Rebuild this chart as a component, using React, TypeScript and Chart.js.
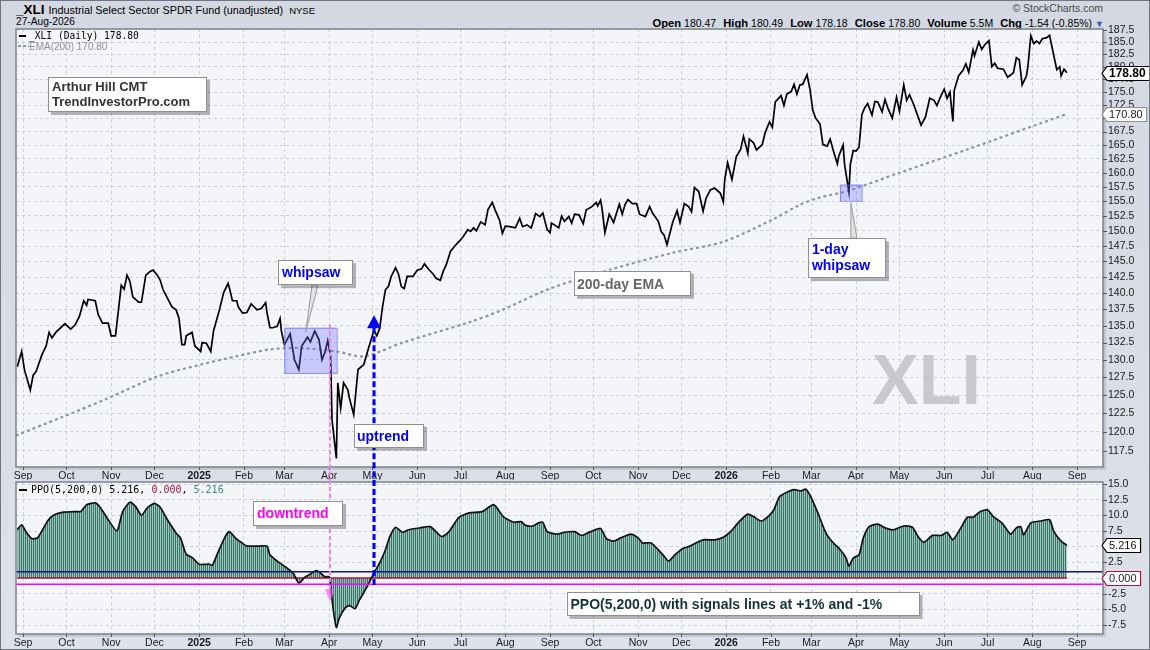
import React, { useEffect, useRef } from "react";
import { Chart, registerables } from "chart.js";

Chart.register(...registerables);

// ---------------- data ----------------
const START_DATE = "2024-09-01"; // day offsets below are counted from this date

const monthTickDates = [
  "2024-09-01", "2024-10-01", "2024-11-01", "2024-12-01", "2025-01-01", "2025-02-01",
  "2025-03-01", "2025-04-01", "2025-05-01", "2025-06-01", "2025-07-01", "2025-08-01",
  "2025-09-01", "2025-10-01", "2025-11-01", "2025-12-01", "2026-01-01", "2026-02-01",
  "2026-03-01", "2026-04-01", "2026-05-01", "2026-06-01", "2026-07-01", "2026-08-01",
  "2026-09-01",
];
const monthNames = ["Jan", "Feb", "Mar", "Apr", "May", "Jun", "Jul", "Aug", "Sep", "Oct", "Nov", "Dec"];

const priceTicks = [117.5, 120, 122.5, 125, 127.5, 130, 132.5, 135, 137.5, 140, 142.5, 145, 147.5, 150,
  152.5, 155, 157.5, 160, 162.5, 165, 167.5, 170, 172.5, 175, 177.5, 180, 182.5, 185, 187.5];
const ppoTicks = [-7.5, -5, -2.5, 0, 2.5, 5, 7.5, 10, 12.5, 15];

// [day offset, close]
const xliDaily: [number, number][] = [
  [-4, 129.0], [-1, 131.2], [1, 128.5], [5, 125.7], [7, 127.8], [9, 128.3], [13, 130.7], [16, 132.0], [18, 134.0], [20, 133.2],
  [23, 134.1], [29, 135.3], [33, 134.5], [36, 135.1], [39, 136.4], [42, 138.8], [44, 138.1], [45, 139.0], [50, 138.8], [52, 136.7],
  [55, 135.4], [59, 135.4], [61, 133.5], [64, 133.5], [68, 141.2], [70, 140.6], [72, 142.8], [74, 141.8], [76, 139.4], [80, 138.6],
  [82, 138.6], [85, 142.8], [88, 143.4], [90, 143.6], [93, 142.8], [95, 142.0], [97, 140.5], [100, 139.2], [103, 137.9], [106, 137.4],
  [108, 136.1], [110, 132.2], [112, 132.2], [113, 133.5], [117, 134.0], [119, 132.0], [123, 131.2], [124, 132.5], [127, 132.4], [130, 131.2],
  [132, 134.3], [136, 137.4], [139, 140.1], [142, 141.5], [143, 140.7], [145, 138.8], [148, 138.8], [149, 137.9], [152, 136.9], [155, 137.0],
  [158, 138.3], [162, 137.4], [165, 137.6], [168, 138.5], [169, 136.9], [171, 134.7], [173, 134.7], [176, 134.9], [178, 136.1], [179, 134.1],
  [181, 132.2], [185, 133.8], [188, 130.0], [191, 128.6], [193, 132.0], [197, 133.3], [199, 132.6], [202, 134.2], [205, 132.9], [207, 130.0],
  [209, 131.0], [211, 132.8], [213, 130.5], [214, 121.6], [217, 116.5], [218, 126.7], [220, 123.2], [222, 126.7], [225, 125.7], [226, 124.6],
  [229, 122.3], [232, 128.6], [236, 129.3], [239, 131.5], [243, 134.3], [245, 133.5], [247, 134.6], [249, 137.9], [251, 140.5], [253, 141.0],
  [255, 142.6], [258, 144.0], [260, 143.0], [262, 141.0], [264, 140.7], [266, 142.6], [270, 142.6], [273, 143.6], [276, 143.8], [278, 144.6],
  [281, 143.7], [284, 143.0], [286, 142.3], [289, 142.0], [291, 143.4], [293, 144.4], [296, 146.6], [299, 147.5], [303, 148.5], [305, 149.1],
  [308, 150.2], [310, 149.9], [312, 150.5], [314, 150.0], [317, 151.5], [320, 151.0], [322, 153.6], [325, 154.8], [327, 153.5], [330, 151.8],
  [332, 149.6], [334, 150.8], [337, 150.7], [341, 150.5], [344, 152.1], [346, 150.7], [349, 151.0], [352, 150.5], [355, 152.9], [358, 152.4],
  [360, 153.0], [363, 150.2], [365, 149.7], [366, 151.3], [368, 151.0], [371, 150.5], [373, 152.5], [375, 151.6], [378, 152.4], [380, 151.3],
  [382, 152.8], [385, 152.7], [388, 151.2], [390, 153.5], [394, 154.1], [397, 154.8], [398, 154.2], [400, 155.2], [401, 153.8], [403, 149.7],
  [406, 152.8], [409, 151.4], [413, 154.5], [415, 152.8], [417, 154.5], [419, 155.3], [422, 154.6], [425, 154.6], [427, 152.8], [431, 152.4],
  [434, 154.1], [436, 153.0], [440, 151.6], [442, 149.9], [444, 149.3], [446, 147.7], [448, 149.6], [450, 151.5], [453, 153.4], [455, 151.4],
  [458, 154.6], [461, 154.1], [463, 153.2], [465, 157.4], [468, 156.7], [471, 153.3], [473, 155.5], [476, 157.0], [479, 157.3], [483, 156.4],
  [485, 154.9], [486, 158.8], [488, 161.8], [491, 158.8], [494, 162.9], [497, 164.2], [499, 166.6], [502, 163.5], [503, 166.1], [506, 165.4],
  [508, 164.1], [512, 165.1], [514, 167.3], [517, 169.3], [519, 168.3], [521, 173.1], [525, 174.3], [527, 172.4], [529, 174.6], [532, 175.1],
  [534, 176.5], [536, 174.6], [538, 176.4], [540, 176.5], [543, 178.4], [545, 175.6], [547, 171.5], [549, 170.0], [552, 168.9], [554, 165.1],
  [557, 164.8], [559, 166.1], [561, 164.2], [564, 161.6], [565, 163.0], [568, 165.0], [569, 161.5], [572, 156.6], [573, 161.5], [575, 164.0],
  [577, 163.9], [579, 164.6], [581, 170.7], [583, 172.0], [585, 172.8], [588, 170.6], [590, 173.2], [592, 173.1], [595, 171.2], [597, 173.6],
  [599, 171.9], [602, 170.0], [605, 174.0], [607, 171.3], [610, 176.4], [612, 173.4], [614, 174.5], [617, 172.5], [620, 170.2], [622, 168.7],
  [625, 170.2], [628, 173.8], [631, 173.4], [633, 172.4], [635, 173.8], [638, 175.6], [640, 173.8], [642, 175.0], [644, 169.4], [645, 175.4],
  [648, 178.2], [651, 179.3], [653, 180.6], [655, 178.9], [658, 183.4], [659, 182.2], [662, 185.0], [664, 183.5], [666, 184.4], [669, 185.3],
  [671, 180.0], [673, 180.7], [675, 179.7], [679, 179.5], [682, 177.9], [686, 178.8], [688, 181.8], [690, 181.4], [692, 176.4], [695, 178.2],
  [696, 180.1], [698, 186.3], [700, 184.7], [702, 185.2], [704, 184.7], [706, 185.7], [709, 185.9], [711, 186.4], [714, 182.1], [716, 179.4],
  [718, 180.0], [719, 178.2], [721, 179.5], [723, 178.8],
];

// [day offset, EMA(200)]
const ema200Daily: [number, number][] = [
  [-5, 119.5], [26, 121.9], [57, 124.4], [93, 127.6], [123, 129.3], [148, 130.5], [171, 131.5], [192, 131.7], [217, 131.2],
  [236, 130.5], [263, 132.5], [310, 135.6], [332, 137.4], [365, 140.7], [407, 143.7], [450, 146.4], [485, 148.2], [519, 151.9],
  [538, 154.4], [551, 155.6], [571, 156.8], [607, 160.0], [654, 164.2], [723, 170.8],
];

// [day offset, PPO(5,200,0)]
const ppoDaily: [number, number][] = [
  [-4, 7.7], [-1, 8.5], [2, 7.4], [6, 6.3], [10, 6.4], [17, 9.1], [21, 10.0], [28, 10.5], [37, 10.6], [40, 10.6],
  [44, 11.7], [50, 12.0], [53, 11.4], [59, 9.3], [65, 7.5], [69, 10.6], [74, 12.1], [78, 11.4], [82, 10.0], [86, 11.2],
  [91, 11.9], [95, 11.3], [100, 9.3], [106, 7.2], [109, 6.4], [113, 3.8], [117, 3.3], [122, 2.2], [129, 2.2], [131, 2.0],
  [135, 4.1], [140, 6.6], [143, 7.4], [147, 6.4], [151, 5.7], [155, 5.1], [160, 5.1], [164, 5.1], [169, 5.1], [171, 3.7],
  [176, 2.7], [181, 1.9], [187, 0.8], [191, -0.8], [195, 0.1], [198, 0.5], [203, 1.2], [206, 0.8], [209, 0.2], [212, 0.2],
  [213, -1.3], [215, -5.3], [217, -7.9], [219, -6.4], [223, -4.8], [226, -4.4], [230, -4.9], [233, -3.5], [238, -1.5], [243, 0.8],
  [247, 2.4], [251, 4.5], [254, 6.6], [258, 8.1], [263, 7.3], [267, 7.7], [275, 8.0], [282, 8.2], [290, 6.6], [295, 7.4],
  [302, 9.7], [309, 10.4], [318, 10.6], [326, 11.7], [333, 9.7], [340, 8.9], [345, 9.0], [348, 8.4], [353, 8.3], [357, 8.8],
  [360, 8.9], [363, 7.4], [370, 7.0], [375, 7.3], [382, 7.4], [387, 6.8], [393, 7.4], [400, 7.9], [404, 6.3], [409, 5.9],
  [414, 6.4], [421, 7.0], [426, 6.4], [429, 5.6], [435, 5.6], [440, 4.5], [444, 3.5], [447, 2.7], [452, 3.8], [457, 4.7],
  [462, 5.1], [467, 5.7], [471, 6.1], [479, 6.1], [485, 6.5], [490, 7.4], [496, 9.0], [502, 10.2], [506, 9.8], [511, 9.1],
  [516, 9.8], [520, 10.9], [524, 13.0], [529, 13.7], [534, 14.1], [539, 13.9], [542, 14.2], [546, 12.8], [551, 10.1], [556, 7.2],
  [560, 5.9], [566, 4.5], [570, 3.2], [572, 1.9], [575, 3.2], [579, 3.7], [582, 6.4], [586, 8.2], [592, 8.6], [597, 8.0],
  [603, 7.7], [610, 8.3], [616, 8.1], [620, 6.6], [624, 5.7], [630, 6.8], [636, 6.8], [640, 7.3], [644, 6.1], [650, 8.2],
  [654, 9.7], [658, 9.7], [663, 10.6], [668, 10.9], [672, 9.8], [678, 8.8], [684, 7.0], [688, 8.0], [691, 8.2], [693, 6.9],
  [698, 8.8], [705, 9.1], [711, 9.3], [714, 7.4], [719, 5.9], [723, 5.216],
];

const signalValue = 0; // PPO signal line (EMA 0)
const upperSignalLine = 1;
const lowerSignalLine = -1;

const lastClose = 178.8;
const lastEma = 170.8;
const lastPpo = 5.216;

const quoteLabels = ["Open", "High", "Low", "Close", "Volume", "Chg"];
const quoteValues = ["180.47", "180.49", "178.18", "178.80", "5.5M", "-1.54 (-0.85%)"];

// ---------------- helpers ----------------
const FONT = "'Liberation Sans', Arial, sans-serif";
const MONO = "'DejaVu Sans Mono', monospace";
const GRID = "#cbd0d8";
const X_MIN = -4.9;
const X_MAX = 748;

const dayOf = (s: string) => {
  const [y, m, d] = s.split("-").map(Number);
  const [y0, m0, d0] = START_DATE.split("-").map(Number);
  return Math.round((Date.UTC(y, m - 1, d) - Date.UTC(y0, m0 - 1, d0)) / 86400000);
};
const tickDays = monthTickDates.map(dayOf);
const tickLabel = (v: number) => {
  const i = tickDays.indexOf(Math.round(v));
  if (i < 0) return "";
  const [y, m] = monthTickDates[i].split("-");
  return m === "01" ? y : monthNames[Number(m) - 1];
};
const isYearTick = (v: number) => {
  const i = tickDays.indexOf(Math.round(v));
  return i >= 0 && monthTickDates[i].split("-")[1] === "01";
};

function makeX(height: number) {
  return {
    type: "linear",
    min: X_MIN,
    max: X_MAX,
    afterBuildTicks: (s: any) => {
      s.ticks = tickDays.map((v) => ({ value: v }));
    },
    afterFit: (s: any) => {
      s.height = height;
    },
    ticks: {
      autoSkip: false,
      maxRotation: 0,
      minRotation: 0,
      padding: 3,
      color: "#1a1a1a",
      font: (c: any) => ({ family: FONT, size: 10.5, weight: isYearTick(c.tick ? c.tick.value : NaN) ? "bold" : "normal" }),
      callback: (v: any) => tickLabel(Number(v)),
    },
    grid: { color: GRID, drawTicks: false, lineWidth: 1 },
    border: { display: false, dash: [3, 3] },
  };
}

function shadowBox(ctx: CanvasRenderingContext2D, x: number, y: number, w: number, h: number) {
  ctx.save();
  ctx.fillStyle = "rgba(0,0,0,0.28)";
  ctx.fillRect(x + 3, y + 3, w, h);
  ctx.fillStyle = "#ffffff";
  ctx.fillRect(x, y, w, h);
  ctx.strokeStyle = "#8f8f8f";
  ctx.lineWidth = 1;
  ctx.strokeRect(Math.round(x) + 0.5, Math.round(y) + 0.5, w - 1, h - 1);
  ctx.restore();
}

function textBox(ctx: CanvasRenderingContext2D, x: number, y: number, w: number, h: number, lines: string[],
  color: string, size = 14, lh = 16, pad = 4, base = 17) {
  shadowBox(ctx, x, y, w, h);
  ctx.save();
  ctx.font = `bold ${size}px ${FONT}`;
  ctx.fillStyle = color;
  ctx.textBaseline = "alphabetic";
  lines.forEach((t, i) => ctx.fillText(t, x + pad, y + base + i * lh));
  ctx.restore();
}

function pointer(ctx: CanvasRenderingContext2D, bx1: number, bx2: number, by: number, tx: number, ty: number) {
  ctx.save();
  ctx.beginPath();
  ctx.moveTo(bx1, by);
  ctx.lineTo(tx, ty);
  ctx.lineTo(bx2, by);
  ctx.closePath();
  ctx.fillStyle = "rgba(225,225,225,0.9)";
  ctx.fill();
  ctx.strokeStyle = "#9a9a9a";
  ctx.lineWidth = 1;
  ctx.stroke();
  ctx.restore();
}

function valueTag(ctx: CanvasRenderingContext2D, x: number, y: number, text: string, border: string, color: string, bold: boolean) {
  ctx.save();
  ctx.font = `${bold ? "bold " : ""}${bold ? 12 : 11}px ${FONT}`;
  const w = ctx.measureText(text).width + 5;
  const h = 14;
  const yy = Math.round(y) + 0.5;
  ctx.beginPath();
  ctx.moveTo(x, yy);
  ctx.lineTo(x + 5, yy - h / 2);
  ctx.lineTo(x + 6 + w, yy - h / 2);
  ctx.lineTo(x + 6 + w, yy + h / 2);
  ctx.lineTo(x + 5, yy + h / 2);
  ctx.closePath();
  ctx.fillStyle = "#ffffff";
  ctx.fill();
  ctx.strokeStyle = border;
  ctx.lineWidth = 1.2;
  ctx.stroke();
  ctx.fillStyle = color;
  ctx.textBaseline = "middle";
  ctx.fillText(text, x + 7, yy + 0.5);
  ctx.restore();
}

function vDash(ctx: CanvasRenderingContext2D, x: number, y1: number, y2: number, color: string, width: number, dash: number[]) {
  ctx.save();
  ctx.strokeStyle = color;
  ctx.lineWidth = width;
  ctx.setLineDash(dash);
  ctx.beginPath();
  ctx.moveTo(x, y1);
  ctx.lineTo(x, y2);
  ctx.stroke();
  ctx.restore();
}

function plotBackground(chart: any) {
  const { ctx, chartArea: a } = chart;
  ctx.save();
  ctx.fillStyle = "rgba(70,80,100,0.16)";
  ctx.fillRect(a.left + 3, a.top + 3, a.width, a.height);
  ctx.fillStyle = "#f4f5f9";
  ctx.fillRect(a.left, a.top, a.width, a.height);
  ctx.restore();
}

function plotFrame(chart: any, yTicks: number[]) {
  const { ctx, chartArea: a, scales } = chart;
  ctx.save();
  ctx.strokeStyle = "#7c818b";
  ctx.lineWidth = 1.5;
  ctx.strokeRect(a.left, a.top, a.width, a.height);
  ctx.strokeStyle = "#555";
  ctx.lineWidth = 1;
  ctx.beginPath();
  yTicks.forEach((v) => {
    const y = Math.round(scales.y.getPixelForValue(v)) + 0.5;
    ctx.moveTo(a.right, y);
    ctx.lineTo(a.right + 4, y);
  });
  tickDays.forEach((d) => {
    const x = Math.round(scales.x.getPixelForValue(d)) + 0.5;
    ctx.moveTo(x, a.bottom);
    ctx.lineTo(x, a.bottom + 3);
  });
  ctx.stroke();
  ctx.restore();
}

// ---------------- component ----------------
export default function App() {
  const mainRef = useRef<HTMLCanvasElement>(null);
  const ppoRef = useRef<HTMLCanvasElement>(null);

  useEffect(() => {
    const PPO_TOP = 470; // page offset of lower canvas
    const MAIN_H = 480;

    const mainPlugin = {
      id: "mainDecor",
      beforeDraw: (chart: any) => plotBackground(chart),
      beforeDatasetsDraw: (chart: any) => {
        const { ctx, chartArea: a } = chart;
        ctx.save();
        ctx.font = `bold 70px ${FONT}`;
        ctx.fillStyle = "#c9c9cb";
        ctx.fillText("XLI", a.left + 856, a.top + 375);
        ctx.restore();
      },
      afterDraw: (chart: any) => {
        const { ctx, chartArea: a, scales } = chart;
        const X = (d: number) => scales.x.getPixelForValue(d);
        const Y = (v: number) => scales.y.getPixelForValue(v);
        plotFrame(chart, priceTicks);

        // highlighted whipsaw zones
        ctx.save();
        ctx.fillStyle = "rgba(110,110,255,0.33)";
        ctx.strokeStyle = "rgba(110,110,240,0.75)";
        ctx.lineWidth = 1;
        [[181, 217.2, 134.7, 128.1], [565.8, 580.8, 157.9, 155.1]].forEach(([d1, d2, p1, p2]) => {
          const x1 = X(d1), x2 = X(d2), y1 = Y(p1), y2 = Y(p2);
          ctx.fillRect(x1, y1, x2 - x1, y2 - y1);
          ctx.strokeRect(x1 + 0.5, y1 + 0.5, x2 - x1, y2 - y1);
        });
        ctx.restore();

        // downtrend (magenta) and uptrend (blue) signal lines
        vDash(ctx, X(212.6), Y(135.2), MAIN_H, "#f47cf4", 2, [4, 3]);
        const ax = X(243.1), ay = Y(136.6);
        vDash(ctx, ax, ay + 12, MAIN_H, "#0000ff", 3, [6, 3]);
        ctx.save();
        ctx.fillStyle = "#0000ff";
        ctx.beginPath();
        ctx.moveTo(ax, ay);
        ctx.lineTo(ax + 7, ay + 13);
        ctx.lineTo(ax - 7, ay + 13);
        ctx.closePath();
        ctx.fill();
        ctx.restore();

        // callouts
        const wx = X(176.6), wy = Y(145.2);
        pointer(ctx, wx + 34, wx + 40, wy + 25, X(195.8), Y(134.1));
        textBox(ctx, wx, wy, 75, 25, ["whipsaw"], "#0000ee");
        textBox(ctx, X(229.2), Y(121.1), 70, 24, ["uptrend"], "#0000ee", 14, 16, 3, 17);
        textBox(ctx, X(381.6), Y(143.5), 117, 25, ["200-day EMA"], "#666666", 14, 16, 3, 18);
        const ox = X(543.6), oy = Y(148.8);
        pointer(ctx, ox + 43, ox + 49, oy, X(573.4), Y(154.7));
        textBox(ctx, ox, oy, 78, 40, ["1-day", "whipsaw"], "#0000ee", 14, 16, 4, 16);

        // credit box
        textBox(ctx, a.left + 32, a.top + 48, 159, 35, ["Arthur Hill CMT", "TrendInvestorPro.com"], "#333333", 13, 15, 4, 14);

        // legend
        ctx.save();
        ctx.fillStyle = "#000";
        ctx.fillRect(a.left + 3, a.top + 6, 7, 2);
        ctx.font = `9.6px ${MONO}`;
        ctx.fillText(`_XLI (Daily) ${lastClose.toFixed(2)}`, a.left + 13, a.top + 10);
        ctx.strokeStyle = "#8a96a0";
        ctx.lineWidth = 2;
        ctx.setLineDash([3, 2]);
        ctx.beginPath();
        ctx.moveTo(a.left + 2, a.top + 17);
        ctx.lineTo(a.left + 13, a.top + 17);
        ctx.stroke();
        ctx.setLineDash([]);
        ctx.font = `10px ${FONT}`;
        ctx.fillStyle = "#8a8f98";
        ctx.fillText(`EMA(200) ${lastEma.toFixed(2)}`, a.left + 13, a.top + 20.5);
        ctx.restore();

        valueTag(ctx, a.right - 1, Y(lastClose), lastClose.toFixed(2), "#000", "#000", true);
        valueTag(ctx, a.right - 1, Y(lastEma), lastEma.toFixed(2), "#8a8f98", "#222", false);
      },
    };

    const ppoPlugin = {
      id: "ppoDecor",
      beforeDraw: (chart: any) => plotBackground(chart),
      afterDatasetsDraw: (chart: any) => {
        const { ctx, chartArea: a, scales } = chart;
        ctx.save();
        ctx.lineWidth = 1.5;
        [[upperSignalLine, "#141482"], [lowerSignalLine, "#ff00ff"]].forEach(([v, c]: any) => {
          const y = scales.y.getPixelForValue(v);
          ctx.strokeStyle = c;
          ctx.beginPath();
          ctx.moveTo(a.left, y);
          ctx.lineTo(a.right, y);
          ctx.stroke();
        });
        ctx.restore();
      },
      afterDraw: (chart: any) => {
        const { ctx, chartArea: a, scales } = chart;
        const X = (d: number) => scales.x.getPixelForValue(d);
        const Y = (v: number) => scales.y.getPixelForValue(v);
        plotFrame(chart, ppoTicks);

        const top = MAIN_H - PPO_TOP;
        const mx = X(212.6);
        vDash(ctx, mx, top, Y(-1.75), "#f47cf4", 2, [4, 3]);
        ctx.save();
        ctx.fillStyle = "rgba(240,90,240,0.65)";
        ctx.beginPath();
        ctx.moveTo(mx - 5, Y(-1.75));
        ctx.lineTo(mx + 5, Y(-1.75));
        ctx.lineTo(mx, Y(-3.83));
        ctx.closePath();
        ctx.fill();
        ctx.restore();
        vDash(ctx, X(243.1), top, Y(-1.4), "#0000ff", 3, [6, 3]);

        textBox(ctx, X(159.3), Y(12.3), 90, 25, ["downtrend"], "#ff00ff", 14, 16, 4, 17);
        textBox(ctx, X(376.4), Y(-2.23), 353, 24, ["PPO(5,200,0) with signals lines at +1% and -1%"], "#143438", 14, 16, 4, 17);

        // legend
        ctx.save();
        ctx.fillStyle = "#000";
        ctx.fillRect(a.left + 3, a.top + 7, 8, 2);
        ctx.font = `10px ${MONO}`;
        let x = a.left + 15;
        const parts: [string, string][] = [
          [`PPO(5,200,0) ${lastPpo.toFixed(3)}`, "#000"],
          [", ", "#000"],
          [signalValue.toFixed(3), "#a0123a"],
          [", ", "#000"],
          [lastPpo.toFixed(3), "#3f8a7a"],
        ];
        parts.forEach(([t, c]) => {
          ctx.fillStyle = c;
          ctx.fillText(t, x, a.top + 11);
          x += ctx.measureText(t).width;
        });
        ctx.restore();

        valueTag(ctx, a.right - 1, Y(lastPpo), lastPpo.toFixed(3), "#000", "#111", false);
        valueTag(ctx, a.right - 1, Y(signalValue), signalValue.toFixed(3), "#b0103a", "#222", false);
      },
    };

    const mainChart = new Chart(mainRef.current as HTMLCanvasElement, {
      type: "line",
      data: {
        datasets: [
          {
            data: xliDaily.map(([d, v]) => ({ x: d, y: v })),
            borderColor: "#000000",
            borderWidth: 1.7,
            pointRadius: 0,
            tension: 0,
            order: 1,
          },
          {
            data: ema200Daily.map(([d, v]) => ({ x: d, y: v })),
            borderColor: "#8a97a3",
            borderWidth: 2.2,
            borderDash: [3, 3],
            pointRadius: 0,
            tension: 0.3,
            order: 2,
          },
        ],
      },
      options: {
        animation: false,
        responsive: false,
        events: [],
        layout: { padding: { left: 16, top: 29, right: 0, bottom: 0 } },
        plugins: { legend: { display: false }, tooltip: { enabled: false } },
        scales: {
          x: makeX(13) as any,
          y: {
            type: "logarithmic",
            position: "right",
            min: 115.4,
            max: 187.7,
            afterBuildTicks: (s: any) => {
              s.ticks = priceTicks.map((v) => ({ value: v }));
            },
            afterFit: (s: any) => {
              s.width = 47;
            },
            ticks: {
              autoSkip: false,
              padding: 5,
              color: "#1a1a1a",
              font: { family: FONT, size: 10.5 },
              callback: (v: any) => Number(v).toFixed(1),
            },
            grid: { color: GRID, drawTicks: false, lineWidth: 1 },
            border: { display: false, dash: [3, 3] },
          } as any,
        },
      },
      plugins: [mainPlugin as any],
    });

    const ppoCtx = (ppoRef.current as HTMLCanvasElement).getContext("2d") as CanvasRenderingContext2D;
    const tile = document.createElement("canvas");
    tile.width = 2;
    tile.height = 1;
    const tctx = tile.getContext("2d") as CanvasRenderingContext2D;
    tctx.fillStyle = "#97cbbd";
    tctx.fillRect(0, 0, 2, 1);
    tctx.fillStyle = "#3f7166";
    tctx.fillRect(1, 0, 1, 1);
    const hatch = ppoCtx.createPattern(tile, "repeat") as CanvasPattern;

    const ppoPoints = ppoDaily.map(([d, v]) => ({ x: d, y: v }));
    const firstDay = ppoDaily[0][0];
    const lastDay = ppoDaily[ppoDaily.length - 1][0];

    const ppoChart = new Chart(ppoRef.current as HTMLCanvasElement, {
      type: "line",
      data: {
        datasets: [
          {
            data: ppoPoints,
            borderColor: "rgba(0,0,0,0)",
            borderWidth: 1,
            pointRadius: 0,
            tension: 0.2,
            fill: { target: "origin", above: hatch, below: hatch } as any,
            order: 3,
          },
          {
            data: [
              { x: firstDay, y: signalValue },
              { x: lastDay, y: signalValue },
            ],
            borderColor: "#b0103a",
            borderWidth: 1.6,
            pointRadius: 0,
            order: 2,
          },
          {
            data: ppoPoints,
            borderColor: "#111111",
            borderWidth: 1.7,
            pointRadius: 0,
            tension: 0.2,
            order: 1,
          },
        ],
      },
      options: {
        animation: false,
        responsive: false,
        events: [],
        layout: { padding: { left: 16, top: 12, right: 0, bottom: 0 } },
        plugins: { legend: { display: false }, tooltip: { enabled: false } },
        scales: {
          x: makeX(16) as any,
          y: {
            type: "linear",
            position: "right",
            min: -8.93,
            max: 15.32,
            afterBuildTicks: (s: any) => {
              s.ticks = ppoTicks.map((v) => ({ value: v }));
            },
            afterFit: (s: any) => {
              s.width = 47;
            },
            ticks: {
              autoSkip: false,
              padding: 5,
              color: "#1a1a1a",
              font: { family: FONT, size: 10.5 },
              callback: (v: any) => Number(v).toFixed(1),
            },
            grid: { color: GRID, drawTicks: false, lineWidth: 1 },
            border: { display: false, dash: [3, 3] },
          } as any,
        },
      },
      plugins: [ppoPlugin as any],
    });

    return () => {
      mainChart.destroy();
      ppoChart.destroy();
    };
  }, []);

  return (
    <div
      style={{
        position: "fixed",
        left: 0,
        top: 0,
        width: 1150,
        height: 650,
        overflow: "hidden",
        background: "linear-gradient(#d3d8e2, #dde1e9)",
        fontFamily: FONT,
        color: "#000",
      }}
    >
      <div style={{ position: "absolute", left: 16, top: 1, whiteSpace: "nowrap", lineHeight: "16px" }}>
        <span style={{ fontWeight: "bold", fontSize: 13.5 }}>_XLI</span>
        <span style={{ fontSize: 10.8, marginLeft: 4 }}>Industrial Select Sector SPDR Fund (unadjusted)</span>
        <span style={{ fontSize: 9.5, marginLeft: 6 }}>NYSE</span>
      </div>
      <div style={{ position: "absolute", left: 16, top: 16, fontSize: 10.2, lineHeight: "12px" }}>27-Aug-2026</div>
      <div style={{ position: "absolute", right: 47, top: 2, fontSize: 10.5, lineHeight: "12px", color: "#4a4a4a" }}>
        © StockCharts.com
      </div>
      <div
        style={{
          position: "absolute",
          right: 46,
          top: 15,
          whiteSpace: "nowrap",
          lineHeight: "13px",
          display: "flex",
          alignItems: "baseline",
        }}
      >
        {quoteLabels.map((l, i) => (
          <span key={l} style={{ marginLeft: i === 0 ? 0 : 7 }}>
            <span style={{ fontWeight: "bold", fontSize: 11.2 }}>{l}</span>
            <span style={{ fontSize: 10.5, marginLeft: 3 }}>{quoteValues[i]}</span>
          </span>
        ))}
        <span style={{ fontSize: 9, marginLeft: 3, color: "#3a5ca8" }}>▼</span>
      </div>
      <canvas ref={mainRef} width={1150} height={480} style={{ position: "absolute", left: 0, top: 0 }} />
      <canvas ref={ppoRef} width={1150} height={180} style={{ position: "absolute", left: 0, top: 470 }} />
      <div style={{ position: "absolute", inset: 0, border: "1px solid #6f7582", pointerEvents: "none" }} />
    </div>
  );
}
